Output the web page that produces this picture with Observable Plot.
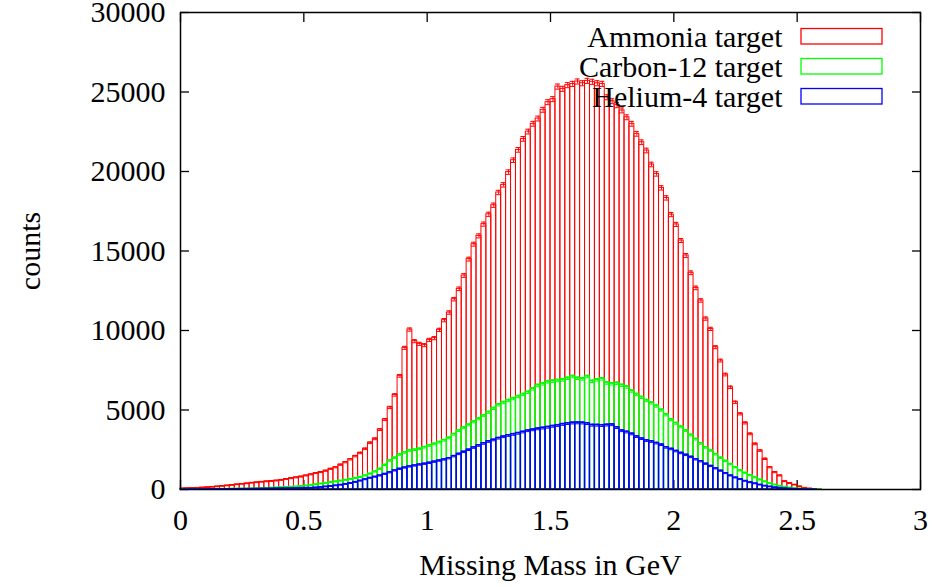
<!DOCTYPE html>
<html><head><meta charset="utf-8">
<script src="https://cdn.jsdelivr.net/npm/d3@7"></script>
<script src="https://cdn.jsdelivr.net/npm/@observablehq/plot@0.6"></script>
<style>body{margin:0;background:#fff}</style>
</head><body><div id="chart"></div>
<script>
const binWidth = 0.02; // GeV
const ammonia = [
70,80,90,100,120,140,160,190,220,250,
280,320,350,380,420,450,480,510,530,560,
600,660,710,760,810,880,950,1030,1100,1180,
1300,1400,1560,1720,1900,2100,2300,2560,2940,3190,
3770,4400,5160,5950,7150,8910,10060,9330,9160,9080,
9410,9520,10040,10650,11130,11970,12620,13460,14490,15430,
15950,16690,17310,17880,18680,19160,19960,20710,21360,22050,
22510,23000,23330,23880,24360,24550,25340,25200,25430,25510,
25660,25550,25700,25640,25550,25510,24670,24420,24170,23840,
23410,23000,22370,21840,21320,20440,19850,18970,18340,17290,
16670,15660,14720,13630,12680,11890,10750,10100,8950,8110,
7230,6430,5490,4760,4190,3500,2870,2450,1930,1400,
1090,880,520,400,300,190,100,60,30,10,
0,0,0,0,0,0,0,0,0,0,0,0,0,0,0,0,0,0,0,0];
const carbon12 = [
8,10,12,15,18,20,23,26,30,35,
40,45,50,55,60,70,80,90,105,120,
135,150,165,180,210,240,280,320,360,410,
460,500,550,600,660,720,780,880,990,1130,
1300,1550,1820,2000,2200,2330,2450,2500,2560,2660,
2770,2870,2980,3100,3250,3480,3710,3890,4070,4260,
4450,4650,4860,5100,5330,5470,5600,5720,5850,5980,
6120,6330,6550,6650,6780,6820,6860,6900,7000,7110,
7000,6960,7110,6810,6900,6960,6700,6650,6690,6560,
6450,6200,5980,5800,5600,5450,5250,5000,4700,4400,
4170,3940,3700,3430,3170,2900,2650,2450,2220,2000,
1800,1600,1400,1200,1050,900,760,620,500,390,
300,220,160,110,70,45,25,12,5,2,
0,0,0,0,0,0,0,0,0,0,0,0,0,0,0,0,0,0,0,0];
const helium4 = [
5,6,7,8,10,12,14,16,18,20,
23,26,29,32,36,40,45,50,55,60,
65,70,75,80,88,95,100,120,150,180,
210,250,290,340,400,470,550,640,730,800,
880,980,1080,1200,1300,1380,1450,1510,1570,1620,
1680,1750,1820,1890,1970,2100,2240,2370,2500,2640,
2770,2900,3020,3120,3230,3320,3400,3470,3540,3620,
3700,3760,3820,3870,3920,3980,4030,4100,4150,4190,
4200,4190,4150,4050,4050,4030,4060,4080,3900,3700,
3620,3500,3330,3200,3080,3020,2920,2820,2650,2550,
2420,2300,2180,2050,1900,1780,1620,1480,1330,1180,
1030,880,750,650,540,450,380,300,230,180,
130,95,65,45,28,16,8,4,2,0,
0,0,0,0,0,0,0,0,0,0,0,0,0,0,0,0,0,0,0,0];
const seriesNames = ["Ammonia target", "Carbon-12 target", "Helium-4 target"];
const seriesColors = ["#ff0000", "#00ff00", "#0000ff"];
const xTicks = [0, 0.5, 1, 1.5, 2, 2.5, 3];
const yTicks = [0, 5000, 10000, 15000, 20000, 25000, 30000];

const W = 932, H = 587, mL = 180, mR = 12, mT = 12, mB = 98;
const FS = 30;
const font = "'Liberation Serif', 'Times New Roman', serif";

function bins(values) {
  return values.map((v, i) => ({lo: i * binWidth, hi: (i + 1) * binWidth, mid: (i + 0.5) * binWidth, v, err: Math.sqrt(v)}));
}
const allSeries = [ammonia, carbon12, helium4].map(bins);

const seriesMarks = allSeries.flatMap((data, k) => {
  const c = seriesColors[k];
  const sw = k === 0 ? 1 : 1.3;
  return [
    Plot.rect(data, {x1: "lo", x2: "hi", y1: 0, y2: "v", fill: "none", stroke: c, strokeWidth: sw}),
    Plot.ruleX(data, {x: "mid", y1: d => d.v - d.err, y2: d => d.v + d.err, stroke: c, strokeWidth: 1}),
    Plot.ruleY(data, {y: d => d.v + d.err, x1: "lo", x2: "hi", stroke: c, strokeWidth: 1}),
    Plot.ruleY(data, {y: d => d.v - d.err, x1: "lo", x2: "hi", stroke: c, strokeWidth: 1})
  ];
});

const legendText = seriesNames.map((name, k) =>
  Plot.text([name], {frameAnchor: "top-right", textAnchor: "end", lineAnchor: "middle", dx: -138, dy: 25 + 30 * k, fontSize: FS, fill: "black"}));

const chart = Plot.plot({
  width: W, height: H,
  marginLeft: mL, marginRight: mR, marginTop: mT, marginBottom: mB,
  style: {fontFamily: font, fontSize: FS + "px", background: "white", color: "black"},
  x: {domain: [0, 3]},
  y: {domain: [0, 30000]},
  marks: [
    Plot.axisX({ticks: xTicks, anchor: "bottom", tickSize: 9, dy: -9, tickFormat: () => "", label: null, strokeWidth: 1.3}),
    Plot.axisX({ticks: xTicks, anchor: "top", tickSize: 9, dy: 9, tickFormat: () => "", label: null, strokeWidth: 1.3}),
    Plot.axisY({ticks: yTicks, anchor: "left", tickSize: 9, dx: 9, tickFormat: () => "", label: null, strokeWidth: 1.3}),
    Plot.axisY({ticks: yTicks, anchor: "right", tickSize: 9, dx: -9, tickFormat: () => "", label: null, strokeWidth: 1.3}),
    ...seriesMarks,
    Plot.frame({stroke: "black", strokeWidth: 1.5}),
    Plot.axisX({ticks: xTicks, anchor: "bottom", tickSize: 0, tickPadding: 19, fontSize: FS, label: null, tickFormat: d => String(d)}),
    Plot.axisY({ticks: yTicks, anchor: "left", tickSize: 0, tickPadding: 15, fontSize: FS, label: null, tickFormat: d3.format("d")}),
    Plot.text(["Missing Mass in GeV"], {frameAnchor: "bottom", lineAnchor: "middle", dy: 76, fontSize: FS, fill: "black"}),
    Plot.text(["counts"], {frameAnchor: "left", textAnchor: "middle", lineAnchor: "middle", dx: -150, rotate: -90, fontSize: FS, fill: "black"}),
    ...legendText
  ]
});

const svg = d3.select(chart);
seriesColors.forEach((c, k) => {
  svg.append("rect")
    .attr("x", W - mR - 119).attr("y", mT + 16.5 + 30 * k)
    .attr("width", 81).attr("height", 15.5)
    .attr("fill", "none").attr("stroke", c).attr("stroke-width", 1.3);
});
document.getElementById("chart").appendChild(chart);
</script>
</body></html>
